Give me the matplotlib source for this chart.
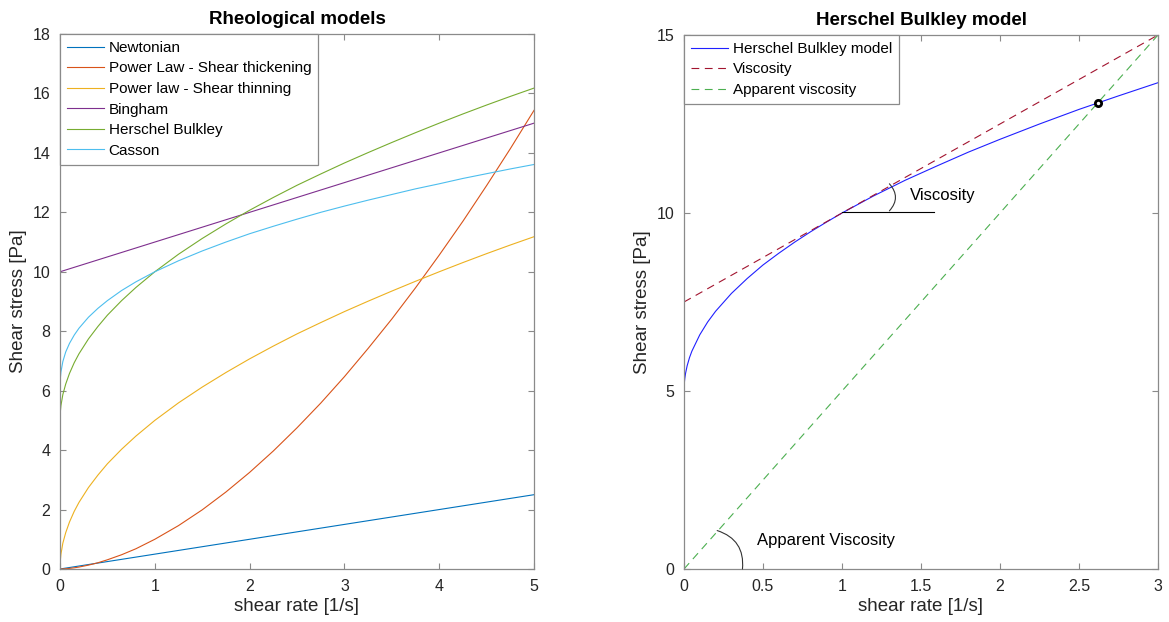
import numpy as np
import matplotlib
matplotlib.use("Agg")
import matplotlib.pyplot as plt
from matplotlib.ticker import FormatStrFormatter

plt.rcParams['font.family'] = ['Liberation Sans', 'DejaVu Sans']

# left panel: values
shear_rate = [0, 0.003, 0.01, 0.03, 0.06, 0.1, 0.15, 0.2, 0.3, 0.4, 0.5, 0.65, 0.8, 1.0,
              1.25, 1.5, 1.75, 2.0, 2.25, 2.5, 2.75, 3.0, 3.25, 3.5, 3.75, 4.0, 4.25,
              4.5, 4.75, 5.0]
newtonian_x = [0, 5]
newtonian = [0, 2.5]
thickening = [0, 0.0, 0.0004, 0.0026, 0.0084, 0.02, 0.04, 0.065, 0.13, 0.21, 0.31, 0.48,
              0.68, 1.0, 1.46, 1.99, 2.59, 3.25, 3.97, 4.75, 5.58, 6.47, 7.42, 8.41, 9.46,
              10.56, 11.7, 12.9, 14.14, 15.43]
thinning = [0, 0.27, 0.5, 0.87, 1.22, 1.58, 1.94, 2.24, 2.74, 3.16, 3.54, 4.03, 4.47, 5.0,
            5.59, 6.12, 6.61, 7.07, 7.5, 7.91, 8.29, 8.66, 9.01, 9.35, 9.68, 10.0, 10.31,
            10.61, 10.9, 11.18]
bingham_x = [0, 5]
bingham = [10, 15]
herschel = [5, 5.27, 5.5, 5.87, 6.22, 6.58, 6.94, 7.24, 7.74, 8.16, 8.54, 9.03, 9.47, 10.0,
            10.59, 11.12, 11.61, 12.07, 12.5, 12.91, 13.29, 13.66, 14.01, 14.35, 14.68,
            15.0, 15.31, 15.61, 15.9, 16.18]
casson = [6.0, 6.39, 6.63, 6.98, 7.3, 7.59, 7.87, 8.1, 8.47, 8.77, 9.03, 9.37, 9.66, 10.0,
          10.37, 10.7, 11.0, 11.28, 11.53, 11.77, 12.0, 12.21, 12.41, 12.6, 12.79, 12.96,
          13.14, 13.3, 13.46, 13.61]
left_labels = ["Newtonian", "Power Law - Shear thickening", "Power law - Shear thinning",
               "Bingham", "Herschel Bulkley", "Casson"]

# right panel
hb_x = [0, 0.002, 0.005, 0.01, 0.02, 0.035, 0.05, 0.1, 0.15, 0.2, 0.3, 0.4, 0.5, 0.6, 0.7,
        0.8, 0.9, 1.0, 1.2, 1.4, 1.6, 1.8, 2.0, 2.25, 2.5, 2.75, 3.0]
hb_y = [5, 5.22, 5.35, 5.5, 5.71, 5.94, 6.12, 6.58, 6.94, 7.24, 7.74, 8.16, 8.54, 8.87,
        9.18, 9.47, 9.74, 10.0, 10.48, 10.92, 11.32, 11.71, 12.07, 12.5, 12.91, 13.29, 13.66]
visc_x = [0, 3]
visc_y = [7.5, 15]
app_x = [0, 3]
app_y = [0, 15]
cross_pt = (2.62, 13.09)

colors = ['#0072BD', '#D95319', '#EDB120', '#7E2F8E', '#77AC30', '#4DBEEE']
spine_col = '#8a8a8a'
txt_col = '#262626'


def style_axes(ax):
    for s in ax.spines.values():
        s.set_color(spine_col)
        s.set_linewidth(0.9)
    ax.tick_params(direction='in', length=4, width=0.8, color=spine_col,
                   labelsize=11.5, labelcolor=txt_col, top=True, right=True, pad=7)
    ax.xaxis.set_major_formatter(FormatStrFormatter('%g'))
    ax.yaxis.set_major_formatter(FormatStrFormatter('%g'))


def add_legend(ax):
    leg = ax.legend(loc='upper left', borderaxespad=0, fontsize=11, handlelength=2.4,
                    labelspacing=0.43, fancybox=False, framealpha=1, borderpad=0.45,
                    handletextpad=0.33)
    leg.get_frame().set_edgecolor(spine_col)
    leg.get_frame().set_linewidth(0.9)


fig = plt.figure(figsize=(11.69, 6.22), dpi=100)
ax1 = fig.add_axes([60 / 1169, 53 / 622, 474 / 1169, 535 / 622])
ax2 = fig.add_axes([684 / 1169, 53 / 622, 474 / 1169, 534 / 622])

# Rheological models
lw = 0.8
ax1.plot(newtonian_x, newtonian, color=colors[0], lw=lw, label=left_labels[0])
ax1.plot(shear_rate, thickening, color=colors[1], lw=lw, label=left_labels[1])
ax1.plot(shear_rate, thinning, color=colors[2], lw=lw, label=left_labels[2])
ax1.plot(bingham_x, bingham, color=colors[3], lw=lw, label=left_labels[3])
ax1.plot(shear_rate, herschel, color=colors[4], lw=lw, label=left_labels[4])
ax1.plot(shear_rate, casson, color=colors[5], lw=lw, label=left_labels[5])
ax1.set_xlim(0, 5)
ax1.set_ylim(0, 18)
ax1.set_xticks(np.arange(0, 6, 1))
ax1.set_yticks(np.arange(0, 19, 2))
style_axes(ax1)
ax1.set_title("Rheological models", fontsize=13.5, fontweight='bold', pad=7)
ax1.set_xlabel("shear rate [1/s]", fontsize=13.5, color=txt_col, labelpad=3)
ax1.set_ylabel("Shear stress [Pa]", fontsize=13.5, color=txt_col, labelpad=4)
add_legend(ax1)

# Herschel Bulkley model
ax2.plot(hb_x, hb_y, color='#2020ff', lw=lw, label="Herschel Bulkley model")
ax2.plot(visc_x, visc_y, color='#A2142F', lw=0.8, dashes=(7, 5), label="Viscosity")
ax2.plot(app_x, app_y, color='#4CAF50', lw=0.8, dashes=(7, 5), label="Apparent viscosity")
ax2.plot(*cross_pt, marker='o', ms=4.5, mfc='white', mec='black', mew=2)
ax2.set_xlim(0, 3)
ax2.set_ylim(0, 15)
ax2.set_xticks(np.arange(0, 3.01, 0.5))
ax2.set_yticks([0, 5, 10, 15])
style_axes(ax2)
ax2.set_title("Herschel Bulkley model", fontsize=13.5, fontweight='bold', pad=7)
ax2.set_xlabel("shear rate [1/s]", fontsize=13.5, color=txt_col, labelpad=3)
ax2.set_ylabel("Shear stress [Pa]", fontsize=13.5, color=txt_col, labelpad=4)
add_legend(ax2)

# angle annotations
ax2.plot([1.0, 1.58], [10.03, 10.03], color='black', lw=0.8)
ax2.annotate("", xy=(1.30, 10.06), xytext=(1.30, 10.82),
             arrowprops=dict(arrowstyle='-', color='#333333', lw=0.8,
                             connectionstyle="arc3,rad=-0.45", shrinkA=0, shrinkB=0))
ax2.text(1.43, 10.5, "Viscosity", fontsize=12, va='center', ha='left')
ax2.annotate("", xy=(0.37, 0.0), xytext=(0.21, 1.08),
             arrowprops=dict(arrowstyle='-', color='#333333', lw=0.8,
                             connectionstyle="arc3,rad=-0.4", shrinkA=0, shrinkB=0))
ax2.text(0.46, 0.8, "Apparent Viscosity", fontsize=12, va='center', ha='left')

fig.savefig("out.png", dpi=100)
